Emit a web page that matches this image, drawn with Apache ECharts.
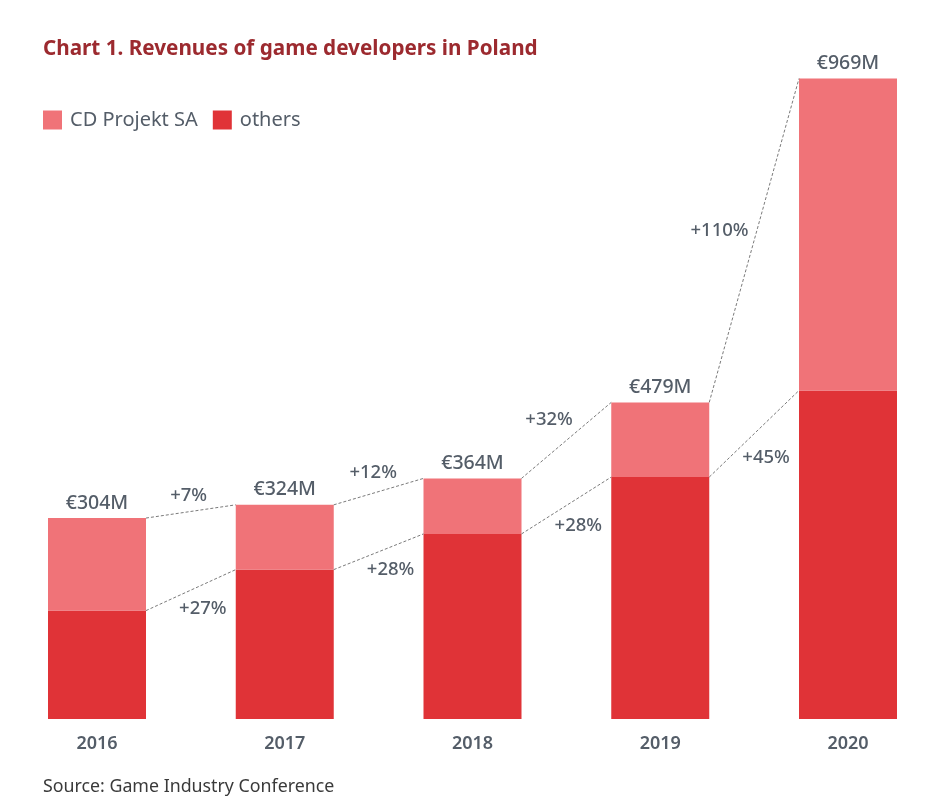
<!DOCTYPE html>
<html>
<head>
<meta charset="utf-8">
<script src="https://cdn.jsdelivr.net/npm/echarts@6/dist/echarts.min.js"></script>
<style>
html,body{margin:0;padding:0;background:#fff;}
#chart{width:937px;height:811px;}
</style>
</head>
<body>
<div id="chart"></div>
<script>
// ---- data ----
const years = ['2016', '2017', '2018', '2019', '2020'];
const totals = [304, 324, 364, 479, 969];
const othersVals = [164, 226, 280, 366, 497];
const cdProjektVals = [140, 98, 84, 113, 472];
const totalLabels = ['€304M', '€324M', '€364M', '€479M', '€969M'];
const totalGrowth = ['+7%', '+12%', '+32%', '+110%'];
const othersGrowth = ['+27%', '+28%', '+28%', '+45%'];

// ---- style ----
const FONT = '"Noto Sans", "Open Sans", sans-serif';
const GRAY = '#545d68';
const LIGHT = '#f07378';
const DARK = '#e03337';
const BAR_W = 98;

const measureCtx = document.createElement('canvas').getContext('2d');
function textSize(t, size, weight) {
  measureCtx.font = weight + ' ' + size + 'px ' + FONT;
  return measureCtx.measureText(t).width;
}

const chart = echarts.init(document.getElementById('chart'), null, {renderer: 'canvas'});

function renderConnectors(params, api) {
  const i = api.value(0);
  const hw = BAR_W / 2;
  const children = [];
  const fs = 18.5, fw = 500;
  // totals line (labels above-left)
  const a1 = api.coord([i, totals[i]]);
  const a2 = api.coord([i + 1, totals[i + 1]]);
  const tx1 = a1[0] + hw, ty1 = a1[1], tx2 = a2[0] - hw, ty2 = a2[1];
  children.push({type: 'line', shape: {x1: tx1, y1: ty1, x2: tx2, y2: ty2},
    style: {stroke: '#6b6b6b', lineWidth: 0.9, lineDash: [3, 2]}});
  {
    const dx = tx2 - tx1, dy = ty2 - ty1, len = Math.sqrt(dx * dx + dy * dy);
    const nx = dy / len, ny = -dx / len; // points up-left
    const halfW = textSize(totalGrowth[i], fs, fw) / 2, halfH = 7;
    const dist = 6 + halfW * Math.abs(nx) + halfH * Math.abs(ny);
    const mx = (tx1 + tx2) / 2, my = (ty1 + ty2) / 2;
    children.push({type: 'text', x: mx + nx * dist, y: my + ny * dist,
      style: {text: totalGrowth[i], fill: GRAY, fontSize: fs, fontWeight: fw, fontFamily: FONT,
        align: 'center', verticalAlign: 'middle'}});
  }
  // others line (labels below-right)
  const b1 = api.coord([i, othersVals[i]]);
  const b2 = api.coord([i + 1, othersVals[i + 1]]);
  const ox1 = b1[0] + hw, oy1 = b1[1], ox2 = b2[0] - hw, oy2 = b2[1];
  children.push({type: 'line', shape: {x1: ox1, y1: oy1, x2: ox2, y2: oy2},
    style: {stroke: '#6b6b6b', lineWidth: 0.9, lineDash: [3, 2]}});
  {
    const slope = (oy2 - oy1) / (ox2 - ox1);
    const halfW = textSize(othersGrowth[i], fs, fw) / 2, halfH = 7;
    const mx = (ox1 + ox2) / 2, my = (oy1 + oy2) / 2;
    const cx = mx + 12;
    const cy = my + (-slope) * (halfW - 12) + halfH + 6;
    children.push({type: 'text', x: cx, y: cy,
      style: {text: othersGrowth[i], fill: GRAY, fontSize: fs, fontWeight: fw, fontFamily: FONT,
        align: 'center', verticalAlign: 'middle'}});
  }
  return {type: 'group', children: children};
}

const option = {
  animation: false,
  backgroundColor: '#ffffff',
  title: {
    text: 'Chart 1. Revenues of game developers in Poland',
    left: 43, top: 39, padding: 0,
    textStyle: {color: '#9c2a2f', fontSize: 20.7, fontWeight: 'bold', fontFamily: FONT}
  },
  legend: {
    data: ['CD Projekt SA', 'others'],
    left: 43, top: 110, padding: 0,
    icon: 'rect', itemWidth: 19, itemHeight: 19, itemGap: 15,
    textStyle: {color: GRAY, fontSize: 20, fontFamily: FONT, padding: [0, 0, 0, 3]}
  },
  graphic: [{
    type: 'text', left: 43, top: 778,
    style: {text: 'Source: Game Industry Conference', fill: '#3a3a3a', fontSize: 17.8, fontFamily: FONT}
  }],
  grid: {left: 97, right: 89, top: 58, bottom: 92, containLabel: false},
  xAxis: {
    type: 'category', data: years, boundaryGap: false,
    axisLine: {show: false}, axisTick: {show: false},
    axisLabel: {color: GRAY, fontSize: 18, fontWeight: 600, fontFamily: FONT, margin: 16}
  },
  yAxis: {type: 'value', min: 0, max: 1000, show: false, splitLine: {show: false}},
  series: [
    {
      name: 'others', type: 'bar', stack: 'rev', barWidth: BAR_W, clip: false,
      itemStyle: {color: DARK}, data: othersVals
    },
    {
      name: 'CD Projekt SA', type: 'bar', stack: 'rev', barWidth: BAR_W, clip: false,
      itemStyle: {color: LIGHT}, data: cdProjektVals,
      label: {
        show: true, position: 'top', distance: 5,
        formatter: p => totalLabels[p.dataIndex],
        color: GRAY, fontSize: 19.5, fontWeight: 500, fontFamily: FONT
      }
    },
    {
      name: 'connectors', type: 'custom', renderItem: renderConnectors, clip: false,
      encode: {x: 0, y: 1}, silent: true, z: 5,
      data: totals.slice(0, 4).map((v, i) => [i, v])
    }
  ]
};
chart.setOption(option);
</script>
</body>
</html>
